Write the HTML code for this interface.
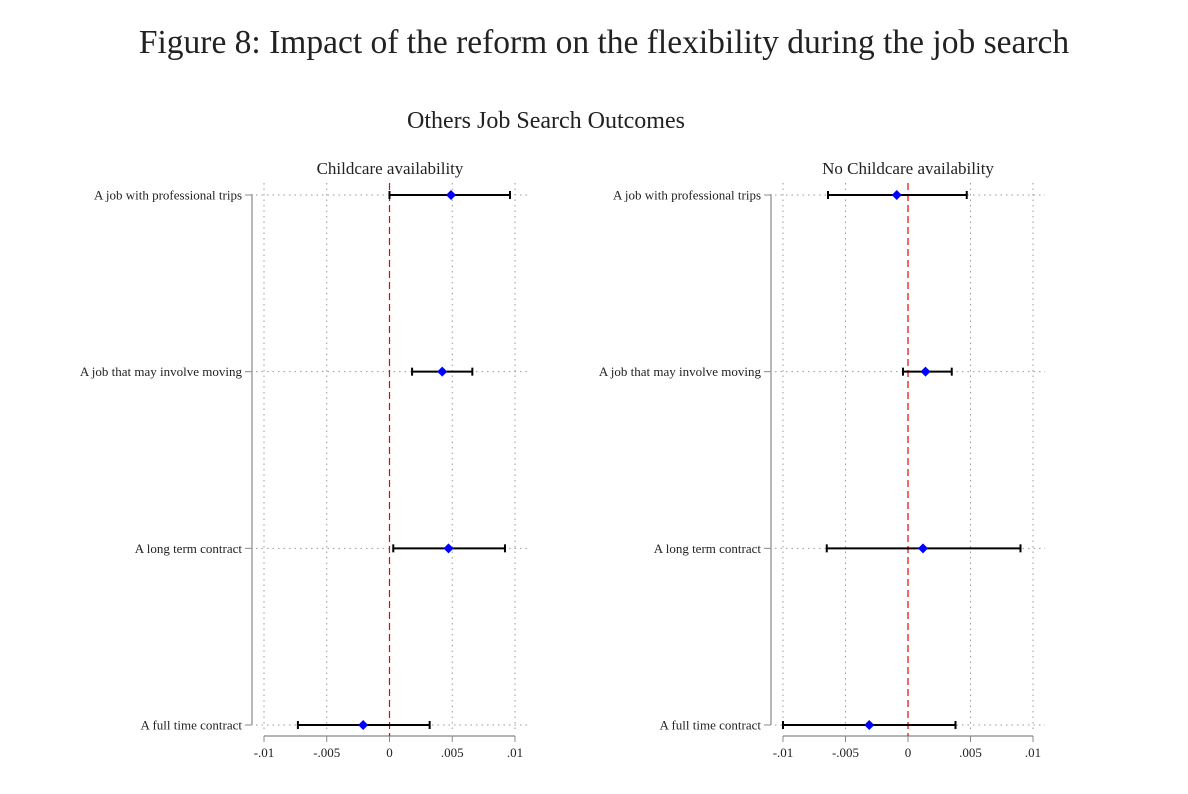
<!DOCTYPE html>
<html><head><meta charset="utf-8"><style>
body{margin:0;background:#fff;}
svg{display:block;font-family:"Liberation Serif",serif;}
</style></head><body>
<svg width="1188" height="794" viewBox="0 0 1188 794" id="chart">
<text x="604" y="53" font-size="33.5" text-anchor="middle" fill="#222">Figure 8: Impact of the reform on the flexibility during the job search</text>
<text x="546" y="128" font-size="24" text-anchor="middle" fill="#222">Others Job Search Outcomes</text>
<g id="panels"></g>
</svg>
<script>
const categories=["A job with professional trips","A job that may involve moving","A long term contract","A full time contract"];
const panelTitles=["Childcare availability","No Childcare availability"];
const pointsLeft=[0.0049,0.0042,0.0047,-0.0021];
const lowLeft=[0.0,0.0018,0.0003,-0.0073];
const highLeft=[0.0096,0.0066,0.0092,0.0032];
const pointsRight=[-0.0009,0.0014,0.0012,-0.0031];
const lowRight=[-0.0064,-0.0004,-0.0065,-0.0100];
const highRight=[0.0047,0.0035,0.0090,0.0038];
const tickValues=[-0.01,-0.005,0,0.005,0.01];
const tickLabels=["-.01","-.005","0",".005",".01"];

const NS="http://www.w3.org/2000/svg";
const root=document.getElementById("panels");
function mk(tag,attrs,parent){const e=document.createElementNS(NS,tag);for(const k in attrs)e.setAttribute(k,attrs[k]);(parent||root).appendChild(e);return e;}
const rowY=[195,372,548,725];
function yPos(i){return rowY[0]+(rowY[3]-rowY[0])*i/(categories.length-1);}
const panels=[{x0:264,x1:515,axisX:252,title:panelTitles[0],p:pointsLeft,lo:lowLeft,hi:highLeft,cx:390},
{x0:783,x1:1033,axisX:771,title:panelTitles[1],p:pointsRight,lo:lowRight,hi:highRight,cx:908}];
panels.forEach((pn,pi)=>{
  const g=mk("g",{});
  
  
  const xs=v=>pn.x0+(v+0.01)/0.02*(pn.x1-pn.x0);
  const t=mk("text",{x:pn.cx,y:174,"font-size":17,"text-anchor":"middle",fill:"#222"},g);t.textContent=pn.title;
  
  
  tickValues.forEach(v=>{if(v!==0){const l=mk("line",{x1:xs(v),x2:xs(v),y1:183,y2:733,stroke:"#999","stroke-dasharray":"1.5,4"},g);
    
    }});
  categories.forEach((c,i)=>{const y=yPos(i);
    const l=mk("line",{x1:pn.axisX+4,x2:pn.x1+12,y1:y,y2:y,stroke:"#999","stroke-dasharray":"1.5,4"},g);
    
    
    mk("line",{x1:pn.axisX-7,x2:pn.axisX,y1:y,y2:y,stroke:"#888"},g);
    const tx=mk("text",{x:pn.axisX-10,y:y+4.5,"font-size":13,"text-anchor":"end",fill:"#222"},g);tx.textContent=c;
    
    
  });
  const ya=mk("line",{x1:pn.axisX,x2:pn.axisX,y1:yPos(0)-1,y2:yPos(3),stroke:"#888","stroke-width":1.2},g);
  
  
  const xa=mk("line",{x1:xs(-0.01),x2:xs(0.01),y1:736,y2:736,stroke:"#888","stroke-width":1.2},g);
  
  
  tickValues.forEach((v,k)=>{mk("line",{x1:xs(v),x2:xs(v),y1:736,y2:742,stroke:"#888"},g);
    const tl=mk("text",{x:xs(v),y:757,"font-size":13,"text-anchor":"middle",fill:"#222"},g);tl.textContent=tickLabels[k];
    
    });
  const z=mk("line",{x1:xs(0),x2:xs(0),y1:183,y2:736,stroke:"#e00","stroke-dasharray":"7,4","stroke-width":1.2},g);
  
  
  categories.forEach((c,i)=>{const y=yPos(i);
    const ci=mk("g",{},g);
    
    
    mk("line",{x1:xs(pn.lo[i]),x2:xs(pn.hi[i]),y1:y,y2:y,stroke:"#000","stroke-width":2},ci);
    mk("line",{x1:xs(pn.lo[i]),x2:xs(pn.lo[i]),y1:y-4,y2:y+4,stroke:"#000","stroke-width":2},ci);
    mk("line",{x1:xs(pn.hi[i]),x2:xs(pn.hi[i]),y1:y-4,y2:y+4,stroke:"#000","stroke-width":2},ci);
    const px=xs(pn.p[i]);
    const d=mk("polygon",{points:`${px},${y-5} ${px+5},${y} ${px},${y+5} ${px-5},${y}`,fill:"#00f"},g);
    
    
  });
});
</script>
</body></html>
